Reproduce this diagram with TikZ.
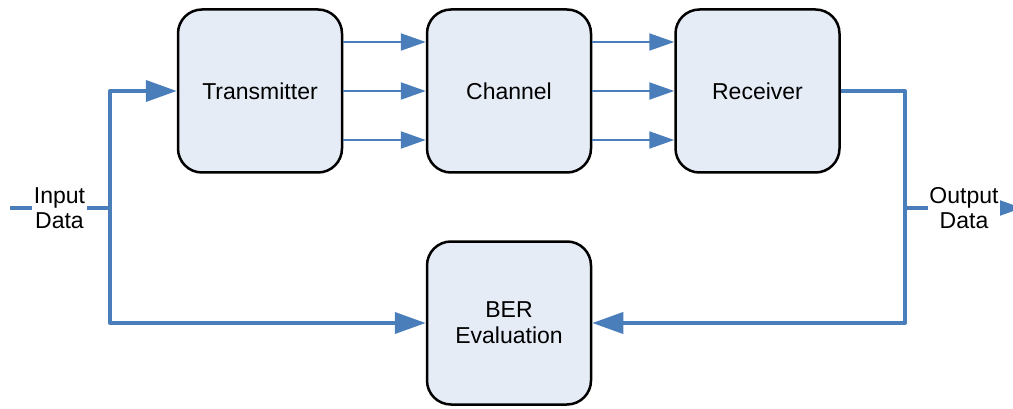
\documentclass[tikz,border=0pt]{standalone}
\usepackage{fontspec}
\setmainfont{Liberation Sans}
\usetikzlibrary{arrows.meta}
\definecolor{flow}{HTML}{4A7EBB}
\definecolor{boxfill}{HTML}{E6ECF6}
\begin{document}
\begin{tikzpicture}[x=1pt,y=-1pt,
  block/.style={draw=black, line width=2.5pt, fill=boxfill, rounded corners=24pt,
    minimum width=164pt, minimum height=163pt, inner sep=0pt, align=center,
    font=\fontsize{23}{26}\selectfont},
  label/.style={fill=white, inner sep=1.5pt, align=center,
    font=\fontsize{23}{25}\selectfont},
  sigline/.style={draw=flow, line width=2.2pt, -{Triangle[length=25pt,width=17pt]}},
  bus/.style={draw=flow, line width=4pt, line join=round},
  busarrow/.style={bus, -{Triangle[length=31pt,width=21pt]}}
]
\useasboundingbox (0,0) rectangle (1013,409);

% processing blocks
\node[block] (tx)  at (260,91)  {Transmitter};
\node[block] (ch)  at (509,91)  {Channel};
\node[block] (rx)  at (757.5,91) {Receiver};
\node[block] (ber) at (509,323) {BER\\Evaluation};

% parallel signal paths
\foreach \dy in {49,0,-49} {
  \draw[sigline] ([yshift=\dy pt]tx.east) -- ([yshift=\dy pt]ch.west);
  \draw[sigline] ([yshift=\dy pt]ch.east) -- ([yshift=\dy pt]rx.west);
}

% input side
\coordinate (inStart) at (10,208);
\coordinate (inJoin)  at (110,208);
\draw[bus] (inStart) -- (inJoin);
\draw[busarrow] (inJoin) |- (tx.west);
\draw[busarrow] (inJoin) |- (ber.west);
\node[label] (inLbl) at (59.5,208) {Input\\Data};

% output side
\coordinate (outCorner) at (905,91);
\coordinate (outJoin)   at (905,208);
\coordinate (outEnd)    at (1022,208);
\draw[bus] (rx.east) -- (outCorner) -- (outJoin);
\draw[busarrow] (outJoin) |- (ber.east);
\draw[busarrow] (outJoin) -- (outEnd);
\node[label] (outLbl) at (964,208) {Output\\Data};
\end{tikzpicture}
\end{document}
